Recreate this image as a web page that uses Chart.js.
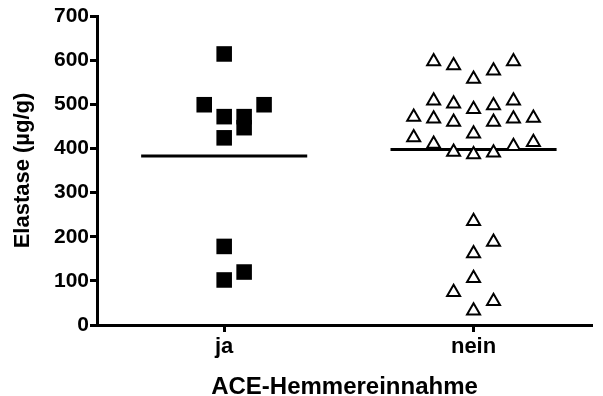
<!DOCTYPE html>
<html>
<head>
<meta charset="utf-8">
<style>
  html, body { margin: 0; padding: 0; background: #fff; }
</style>
</head>
<body>
<canvas id="chart" width="603" height="396"></canvas>
<script src="https://cdn.jsdelivr.net/npm/chart.js@4/dist/chart.umd.min.js"></script>
<script>
const categories = ['ja', 'nein'];
const jaValues = [102, 120, 178, 424, 447, 472, 472, 499, 499, 614];
const neinValues = [32, 54, 74, 106, 162, 188, 235, 386, 390, 392, 405, 410, 414, 425, 433, 460, 460, 467, 467, 469, 471,
  489, 497, 501, 508, 508, 557, 576, 588, 597, 597];
const yTicks = [0, 100, 200, 300, 400, 500, 600, 700];
const xTitle = 'ACE-Hemmereinnahme';
const yTitle = 'Elastase (µg/g)';

const FONT = "'Liberation Sans', Arial, sans-serif";
Chart.defaults.font.family = FONT;
Chart.defaults.color = '#000';

// spread points of close values sideways, like a column scatter plot
const spread = (values, center) => {
  const sorted = [...values].sort((a, b) => a - b);
  const pts = [];
  let row = [];
  const flush = () => {
    row.forEach((v, i) => {
      const k = Math.ceil(i / 2) * (i % 2 ? 1 : -1);
      pts.push({ x: center + k * 0.08, y: v });
    });
    row = [];
  };
  sorted.forEach(v => {
    if (row.length && v - row[0] > 45) flush();
    row.push(v);
  });
  flush();
  return pts;
};

const mean = a => a.reduce((s, v) => s + v, 0) / a.length;
const meanLine = (values, center) => {
  const m = mean(values);
  return [{ x: center - 0.333, y: m }, { x: center + 0.333, y: m }];
};

const tickGrid = {
  drawOnChartArea: false,
  drawTicks: true,
  tickLength: 7,
  tickWidth: 3,
  tickColor: '#000'
};

new Chart(document.getElementById('chart'), {
  type: 'scatter',
  data: {
    datasets: [
      {
        data: spread(jaValues, 1),
        pointStyle: 'rect',
        pointRadius: 11,
        backgroundColor: '#000',
        borderColor: '#000',
        borderWidth: 0,
        clip: false
      },
      {
        data: spread(neinValues, 2),
        pointStyle: 'triangle',
        pointRadius: 7.5,
        backgroundColor: '#fff',
        borderColor: '#000',
        borderWidth: 2,
        clip: false
      },
      {
        data: meanLine(jaValues, 1),
        showLine: true,
        pointRadius: 0,
        borderColor: '#000',
        borderWidth: 3
      },
      {
        data: meanLine(neinValues, 2),
        showLine: true,
        pointRadius: 0,
        borderColor: '#000',
        borderWidth: 3
      }
    ]
  },
  options: {
    responsive: false,
    animation: false,
    devicePixelRatio: 1,
    layout: { padding: { top: 16, right: 0, left: 0, bottom: 0 } },
    plugins: { legend: { display: false }, tooltip: { enabled: false } },
    scales: {
      x: {
        type: 'linear',
        min: 0.49,
        max: 2.475,
        afterBuildTicks: axis => { axis.ticks = categories.map((c, i) => ({ value: i + 1 })); },
        afterFit: axis => { axis.height = 71; },
        ticks: {
          callback: v => categories[v - 1],
          font: { size: 22, weight: 'bold' },
          padding: 2,
          maxRotation: 0
        },
        grid: tickGrid,
        border: { color: '#000', width: 3 },
        title: {
          display: true,
          text: xTitle,
          font: { size: 24, weight: 'bold', lineHeight: 0.75 },
          padding: 0
        }
      },
      y: {
        min: 0,
        max: 700,
        afterBuildTicks: axis => { axis.ticks = yTicks.map(v => ({ value: v })); },
        afterFit: axis => { axis.width = 97; },
        ticks: {
          font: { size: 21, weight: 'bold' },
          padding: 1
        },
        grid: tickGrid,
        border: { color: '#000', width: 3 },
        title: {
          display: true,
          text: yTitle,
          font: { size: 22, weight: 'bold' },
          padding: { top: 10, bottom: 0 }
        }
      }
    }
  }
});
</script>
</body>
</html>
